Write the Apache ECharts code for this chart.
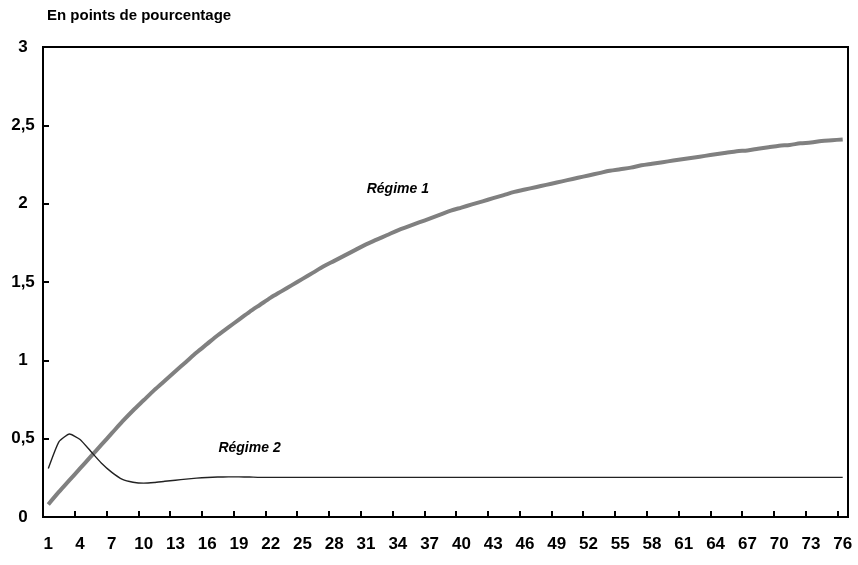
<!DOCTYPE html>
<html>
<head>
<meta charset="utf-8">
<script src="https://cdn.jsdelivr.net/npm/echarts@6/dist/echarts.min.js"></script>
<style>
html,body{margin:0;padding:0;background:#fff;}
#chart{width:858px;height:565px;}
</style>
</head>
<body>
<div id="chart"></div>
<script>
var titleText = 'En points de pourcentage';
var categories = [];
for (var i = 1; i <= 76; i++) categories.push(String(i));

var regime1 = [0.08,0.16,0.235,0.31,0.385,0.46,0.535,0.61,0.68,0.745,
  0.81,0.87,0.93,0.99,1.05,1.105,1.16,1.21,1.26,1.31,
  1.355,1.40,1.44,1.48,1.52,1.56,1.60,1.635,1.67,1.705,
  1.74,1.77,1.80,1.83,1.855,1.88,1.905,1.93,1.955,1.975,
  1.995,2.015,2.035,2.055,2.075,2.09,2.105,2.12,2.135,2.15,
  2.165,2.18,2.195,2.21,2.22,2.23,2.245,2.255,2.265,2.275,
  2.285,2.295,2.305,2.315,2.325,2.335,2.34,2.35,2.36,2.37,
  2.375,2.385,2.39,2.40,2.405,2.41];

var regime2 = [0.31,0.48,0.53,0.495,0.42,0.345,0.285,0.24,0.222,0.216,
  0.22,0.228,0.235,0.242,0.248,0.252,0.255,0.256,0.256,0.255,
  0.253,0.253,0.253,0.253,0.253,0.253,0.253,0.253,0.253,0.253,
  0.253,0.253,0.253,0.253,0.253,0.253,0.253,0.253,0.253,0.253,
  0.253,0.253,0.253,0.253,0.253,0.253,0.253,0.253,0.253,0.253,
  0.253,0.253,0.253,0.253,0.253,0.253,0.253,0.253,0.253,0.253,
  0.253,0.253,0.253,0.253,0.253,0.253,0.253,0.253,0.253,0.253,
  0.253,0.253,0.253,0.253,0.253,0.253];

var seriesNames = ['Régime 1', 'Régime 2'];
var labelAnchors = [['34', 2.094], ['20', 0.44]];

var FONT = '"Liberation Sans", Arial, sans-serif';
var chart = echarts.init(document.getElementById('chart'), null, {renderer: 'canvas'});

function annot(idx) {
  return {
    symbol: 'rect', symbolSize: [1, 1], silent: true,
    itemStyle: {color: 'rgba(0,0,0,0)'},
    label: {show: true, position: 'inside', formatter: seriesNames[idx],
      fontFamily: FONT, fontSize: 14, fontWeight: 'bold', fontStyle: 'italic', color: '#000'},
    data: [{coord: labelAnchors[idx]}]
  };
}

chart.setOption({
  animation: false,
  backgroundColor: '#fff',
  title: {text: titleText, left: 47, top: 8, padding: 0,
    textStyle: {fontFamily: FONT, fontSize: 15, fontWeight: 'bold', color: '#000'}},
  grid: {left: 43, top: 47, right: 10, bottom: 48, show: true, borderColor: '#000', borderWidth: 2, backgroundColor: '#fff'},
  xAxis: {
    type: 'category', data: categories, boundaryGap: true,
    axisLine: {lineStyle: {color: '#000', width: 2}},
    axisTick: {show: true, inside: true, length: 6, interval: 2, lineStyle: {color: '#000', width: 2}},
    axisLabel: {interval: 2, margin: 19, fontFamily: FONT, fontSize: 17, fontWeight: 'bold', color: '#000'},
    splitLine: {show: false}
  },
  yAxis: {
    type: 'value', min: 0, max: 3, interval: 0.5,
    axisLine: {show: true, lineStyle: {color: '#000', width: 2}},
    axisTick: {show: true, inside: true, length: 6, lineStyle: {color: '#000', width: 2}},
    axisLabel: {margin: 20, align: 'center', fontFamily: FONT, fontSize: 17, fontWeight: 'bold', color: '#000',
      formatter: function (v) { return String(v).replace('.', ','); }},
    splitLine: {show: false}
  },
  series: [
    {name: seriesNames[0], type: 'line', data: regime1, showSymbol: false, smooth: 0.3,
      lineStyle: {color: '#808080', width: 4}, markPoint: annot(0)},
    {name: seriesNames[1], type: 'line', data: regime2, showSymbol: false, smooth: 0.15,
      lineStyle: {color: '#222', width: 1.4}, markPoint: annot(1)}
  ]
});
</script>
</body>
</html>
